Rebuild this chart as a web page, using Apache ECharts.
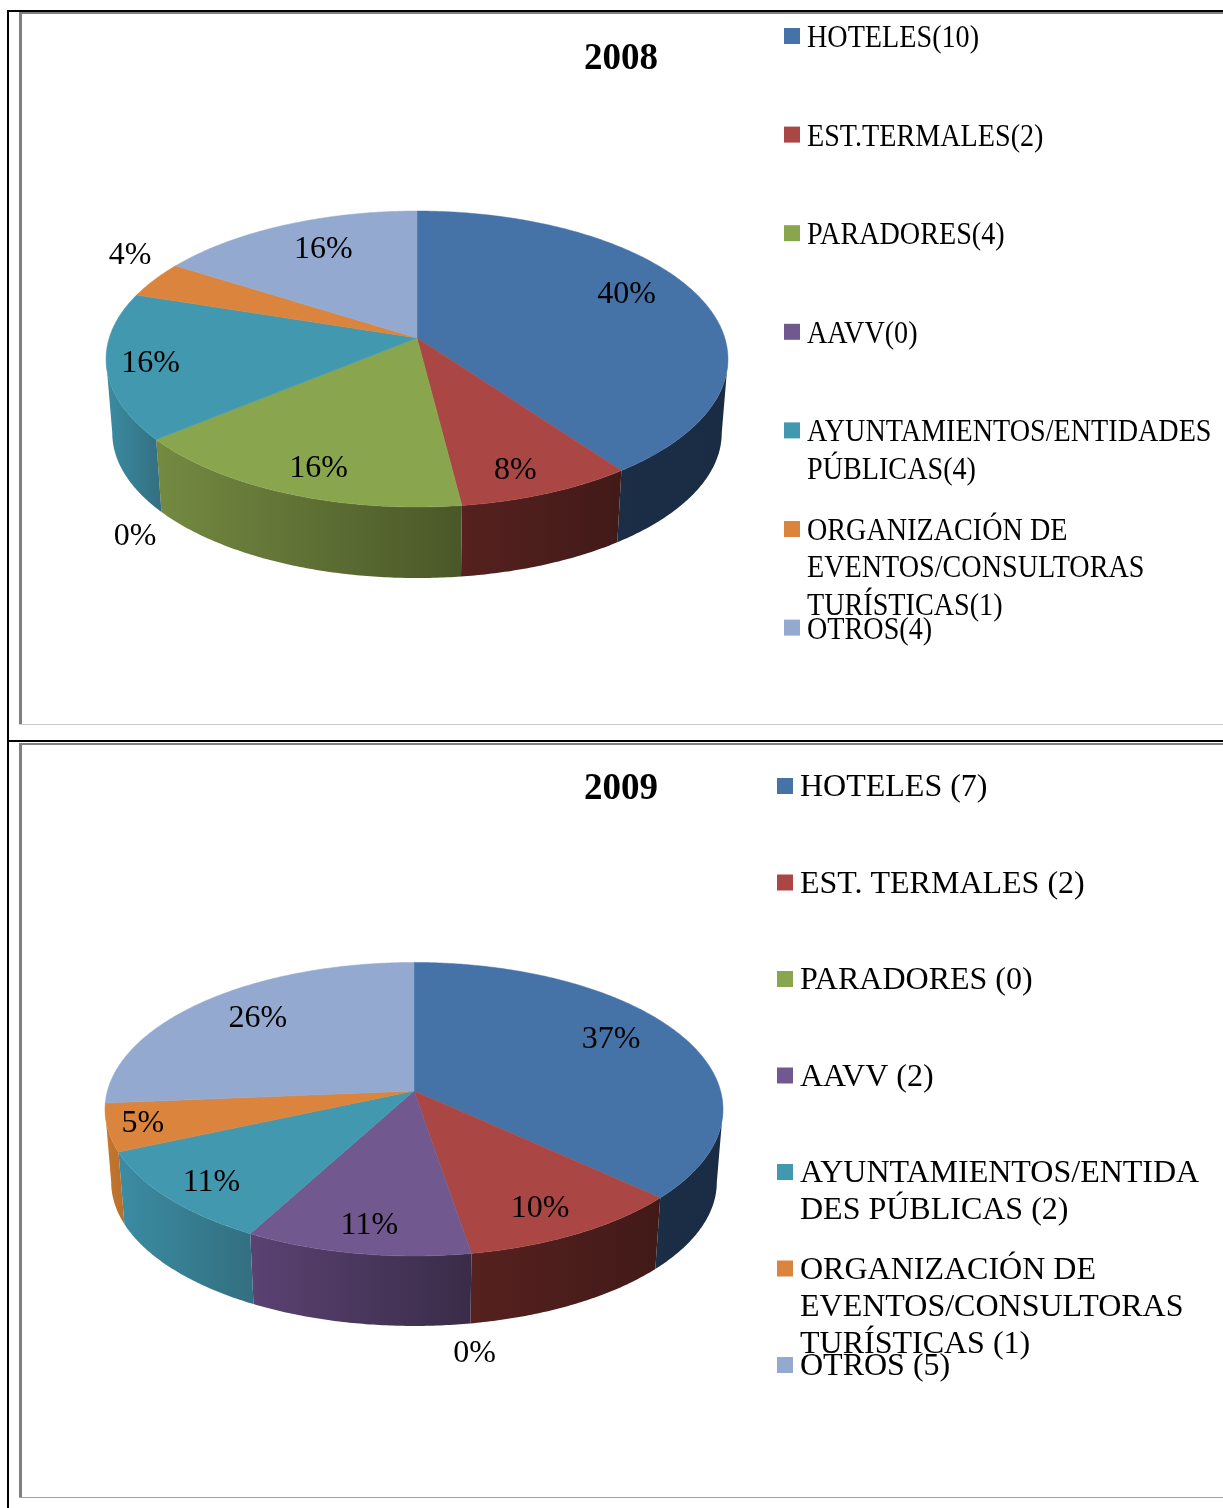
<!DOCTYPE html>
<html>
<head>
<meta charset="utf-8">
<script src="https://cdn.jsdelivr.net/npm/echarts@6/dist/echarts.min.js"></script>
<style>
html, body { margin: 0; padding: 0; background: #fff; }
#main { width: 1223px; height: 1508px; }
</style>
</head>
<body>
<div id="main"></div>
<script>
// data
var legend2008 = ['HOTELES(10)', 'EST.TERMALES(2)', 'PARADORES(4)', 'AAVV(0)',
  'AYUNTAMIENTOS/ENTIDADES\nPÚBLICAS(4)', 'ORGANIZACIÓN DE\nEVENTOS/CONSULTORAS\nTURÍSTICAS(1)', 'OTROS(4)'];
var legend2009 = ['HOTELES (7)', 'EST. TERMALES (2)', 'PARADORES (0)', 'AAVV (2)',
  'AYUNTAMIENTOS/ENTIDA\nDES PÚBLICAS (2)', 'ORGANIZACIÓN DE\nEVENTOS/CONSULTORAS\nTURÍSTICAS (1)', 'OTROS (5)'];
var values2008 = [10, 2, 4, 0, 4, 1, 4];
var values2009 = [7, 2, 0, 2, 2, 1, 5];
var labels2008 = ['40%', '8%', '16%', '0%', '16%', '4%', '16%'];
var labels2009 = ['37%', '10%', '0%', '11%', '11%', '5%', '26%'];

var topColors = ['#4572A7', '#AA4643', '#89A54E', '#71588F', '#4198AF', '#DB843D', '#93A9CF'];
var wallColors = [
  ['#1b2e46', '#1a2c44'], ['#56211f', '#411a18'], ['#748a41', '#4a5728'], ['#5a4272', '#3a2c48'],
  ['#3b8ca3', '#336f80'], ['#c4772f', '#b86f2c'], ['#93a9cf', '#93a9cf']
];
var serif = '"Liberation Serif", "Times New Roman", serif';

// perspective disc: apex is where the slices meet, tilt is the foreshortening
var pie2008 = { cx: 417, cy: 338, r: 307.8, a: 145, tilt: 0.142, floorY: 412.4, floorScale: 0.98 };
var pie2009 = { cx: 414, cy: 1091, r: 306.6, a: 144.5, tilt: 0.124, floorY: 1164.3, floorScale: 0.98 };
var nudge2008 = [[-3, -11], [4, 20], [-4, 18], [-91, 124], [-35, 5], [-87, -38], [8, -1]];
var nudge2009 = [[-6, -9], [7, 14], [19, 145], [-3, 17], [-22, 13], [-43, 5], [3, -3]];

function project(pie, theta, f, floor) {
  var u = f * Math.sin(theta), v = -f * Math.cos(theta), w = 1 - pie.tilt * v;
  var s = floor ? pie.floorScale : 1;
  var y0 = floor ? pie.floorY : pie.cy;
  return [pie.cx + s * pie.r * u / w, y0 + s * pie.a * v / w];
}

function rim(pie, from, to, floor) {
  var pts = [], n = Math.max(2, Math.ceil((to - from) / 0.01));
  for (var i = 0; i <= n; i++) pts.push(project(pie, from + (to - from) * i / n, 1, floor));
  return pts;
}

function sliceRows(values) {
  var total = values.reduce(function (a, b) { return a + b; }, 0), run = 0;
  return values.map(function (v, i) {
    var row = [v, run / total * 2 * Math.PI, (run + v) / total * 2 * Math.PI, i];
    run += v;
    return row;
  });
}

function pieSeries(pie, values, labels, nudge) {
  var rows = sliceRows(values);
  var edge = Math.acos(-pie.tilt);
  return [
    {
      type: 'custom', coordinateSystem: 'none', z: 1, silent: true, data: rows,
      renderItem: function (params, api) {
        var from = Math.max(api.value(1), edge), to = Math.min(api.value(2), 2 * Math.PI - edge);
        if (api.value(0) === 0 || to <= from) return;
        var c = wallColors[api.value(3)];
        return {
          type: 'polygon',
          shape: { points: rim(pie, from, to, false).concat(rim(pie, from, to, true).reverse()) },
          style: {
            fill: new echarts.graphic.LinearGradient(0, 0, 1, 0, [{ offset: 0, color: c[0] }, { offset: 1, color: c[1] }])
          }
        };
      }
    },
    {
      type: 'custom', coordinateSystem: 'none', z: 2, silent: true, data: rows,
      renderItem: function (params, api) {
        if (api.value(0) === 0) return;
        var color = topColors[api.value(3)];
        return {
          type: 'polygon',
          shape: { points: [[pie.cx, pie.cy]].concat(rim(pie, api.value(1), api.value(2), false)) },
          style: { fill: color, stroke: color, lineWidth: 0.5 }
        };
      }
    },
    {
      type: 'custom', coordinateSystem: 'none', z: 3, silent: true, data: rows,
      renderItem: function (params, api) {
        var i = api.value(3);
        var p = project(pie, (api.value(1) + api.value(2)) / 2, 0.75, false);
        return {
          type: 'text',
          x: p[0] + nudge[i][0], y: p[1] + nudge[i][1],
          style: { text: labels[i], font: '32px ' + serif, fill: '#000', align: 'center', verticalAlign: 'middle' }
        };
      }
    }
  ];
}

function legendSeries(names, box) {
  return {
    type: 'custom', coordinateSystem: 'none', z: 3, silent: true,
    data: names.map(function (n, i) { return [i]; }),
    renderItem: function (params, api) {
      var i = api.value(0), y = box.top + i * box.step;
      return {
        type: 'group',
        children: [
          { type: 'rect', shape: { x: box.x, y: y - 8, width: 16, height: 16 }, style: { fill: topColors[i] } },
          {
            type: 'text', x: box.x + 23, y: y + box.textDy - box.lineHeight / 2, scaleX: box.squeeze,
            style: {
              text: names[i], font: box.size + 'px ' + serif, fill: '#000',
              lineHeight: box.lineHeight, align: 'left', verticalAlign: 'top'
            }
          }
        ]
      };
    }
  };
}

// table rules round the two panels
var rules = [
  [7, 10, 1216, 2, '#000'], [7, 10, 2, 1498, '#000'], [7, 740, 1216, 2, '#000'],
  [19, 12, 1204, 2, '#808080'], [19, 12, 3, 713, '#808080'], [19, 724, 1204, 1, '#cccccc'],
  [19, 743, 1204, 2, '#808080'], [19, 743, 3, 755, '#808080'], [19, 1497, 1204, 1, '#a0a0a0']
];

var myChart = echarts.init(document.getElementById('main'));
myChart.setOption({
  animation: false,
  backgroundColor: '#fff',
  title: [
    { text: '2008', left: 616, top: 36, textAlign: 'center', textStyle: { fontFamily: serif, fontSize: 37, fontWeight: 'bold', color: '#000' } },
    { text: '2009', left: 616, top: 766, textAlign: 'center', textStyle: { fontFamily: serif, fontSize: 37, fontWeight: 'bold', color: '#000' } }
  ],
  graphic: rules.map(function (r) {
    return { type: 'rect', silent: true, shape: { x: r[0], y: r[1], width: r[2], height: r[3] }, style: { fill: r[4] } };
  }),
  series: pieSeries(pie2008, values2008, labels2008, nudge2008)
    .concat(pieSeries(pie2009, values2009, labels2009, nudge2009))
    .concat([
      legendSeries(legend2008, { x: 784, top: 36, step: 98.6, size: 32, lineHeight: 37.5, squeeze: 0.88, textDy: 2.5 }),
      legendSeries(legend2009, { x: 777, top: 786, step: 96.5, size: 32, lineHeight: 37, squeeze: 1, textDy: 2 })
    ])
});
</script>
</body>
</html>
